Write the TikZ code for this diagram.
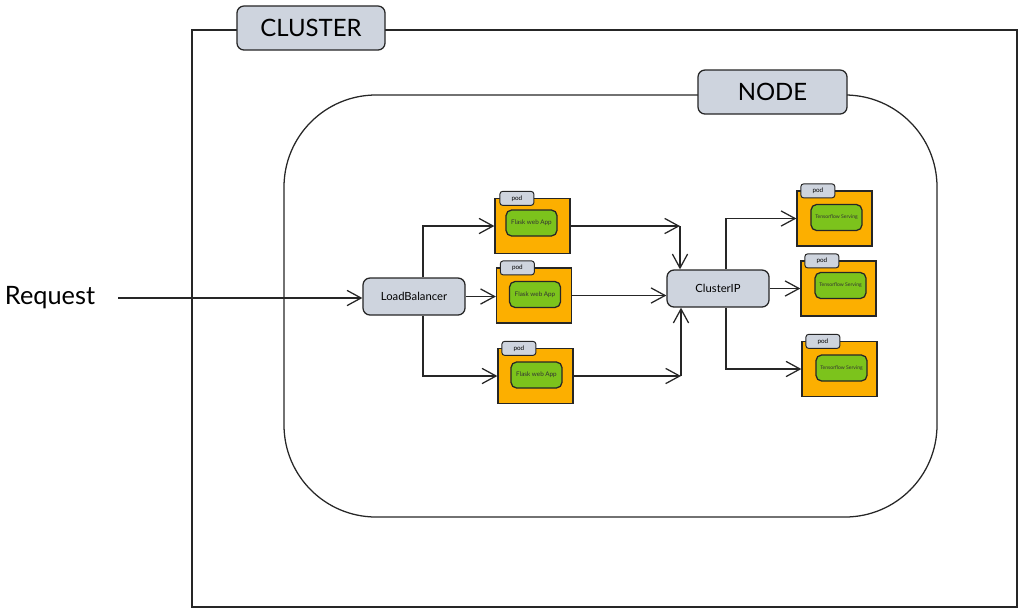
\documentclass[tikz,border=0pt]{standalone}
\usepackage{fontspec}
\setmainfont{Lato}
\usetikzlibrary{arrows.meta}

\definecolor{labelgray}{HTML}{CED4DE}
\definecolor{podorange}{HTML}{FCAF00}
\definecolor{appgreen}{HTML}{7CC31C}

\tikzset{
    frame/.style={draw=black!85, line width=0.9pt},
    tagbox/.style={draw=black!85, line width=0.9pt, fill=labelgray, rounded corners=5pt,
        minimum width=3.7cm, minimum height=1.1cm, font=\fontsize{17}{17}\selectfont},
    svcbox/.style={draw=black!85, line width=0.9pt, fill=labelgray, rounded corners=5pt,
        minimum width=2.55cm, minimum height=0.925cm, font=\fontsize{8}{8}\selectfont},
    podbox/.style={draw=black!85, line width=0.9pt, fill=podorange,
        minimum width=1.875cm, minimum height=1.375cm, inner sep=0pt},
    podtag/.style={draw=black!85, line width=0.7pt, fill=labelgray, rounded corners=2pt,
        minimum width=0.85cm, minimum height=0.35cm, inner sep=0pt, anchor=south west,
        font=\fontsize{4.5}{4.5}\selectfont},
    appbox/.style={draw=black!85, line width=0.9pt, fill=appgreen, rounded corners=4pt,
        minimum width=1.275cm, minimum height=0.65cm, inner sep=0pt, text=black!80},
    arr/.style={-{Straight Barb[length=3.5mm,width=3.8mm]}, draw=black!85, line width=0.9pt}
}

\begin{document}
\begin{tikzpicture}[x=0.025cm, y=-0.025cm]
    \useasboundingbox (0,0) rectangle (1024,614);

    % Cluster y Node
    \draw[frame] (192,30) rectangle (1017,607);
    \draw[frame, rounded corners=2.3cm] (284,95) rectangle (937,517);
    \node[tagbox] (cluster) at (311,28) {CLUSTER};
    \node[tagbox, minimum width=3.725cm] (nodetag) at (772.5,92) {NODE};

    % Servicios
    \node[font=\fontsize{18}{18}\selectfont] (req) at (50,298) {Request};
    \node[svcbox] (lb) at (414,296.5) {LoadBalancer};
    \node[svcbox] (cip) at (718,288.5) {ClusterIP};

    % Pods Flask
    \node[podbox] (p1) at (532.5,226) {};
    \node[podtag] (p1t) at ([shift={(5,8)}]p1.north west) {pod};
    \node[appbox, font=\fontsize{4.5}{4.5}\selectfont] (p1a) at ([shift={(-1,-3)}]p1.center) {Flask web App};
    \node[podbox] (p2) at (534,295.5) {};
    \node[podtag] (p2t) at ([shift={(4,8)}]p2.north west) {pod};
    \node[appbox, font=\fontsize{4.5}{4.5}\selectfont] (p2a) at ([shift={(1,-1)}]p2.center) {Flask web App};
    \node[podbox] (p3) at (535.5,376) {};
    \node[podtag] (p3t) at ([shift={(4,8)}]p3.north west) {pod};
    \node[appbox, font=\fontsize{4.5}{4.5}\selectfont] (p3a) at ([shift={(1,-1)}]p3.center) {Flask web App};

    % Pods TensorFlow
    \node[podbox] (p4) at (834.5,218.5) {};
    \node[podtag] (p4t) at ([shift={(4,8)}]p4.north west) {pod};
    \node[appbox, font=\fontsize{3.6}{3.6}\selectfont] (p4a) at ([shift={(2,-1)}]p4.center) {Tensorflow Serving};
    \node[podbox] (p5) at (838.5,288.5) {};
    \node[podtag] (p5t) at ([shift={(4,8)}]p5.north west) {pod};
    \node[appbox, font=\fontsize{3.6}{3.6}\selectfont] (p5a) at ([shift={(2,-3)}]p5.center) {Tensorflow Serving};
    \node[podbox] (p6) at (839.5,369) {};
    \node[podtag] (p6t) at ([shift={(4,8)}]p6.north west) {pod};
    \node[appbox, font=\fontsize{3.6}{3.6}\selectfont] (p6a) at ([shift={(2,-1)}]p6.center) {Tensorflow Serving};

    % Flechas de entrada
    \draw[arr] ([xshift=0.45cm]req.east) -- (req.east -| lb.west);
    \draw[arr] ([xshift=0.225cm]lb.north) |- (p1.west);
    \draw[arr] (lb.east) -- (lb.east -| p2.west);
    \draw[arr] ([xshift=0.225cm]lb.south) |- (p3.west);

    % Flechas hacia ClusterIP
    \coordinate (ct) at ([xshift=-0.95cm]cip.north);
    \coordinate (cb) at ([xshift=-0.925cm]cip.south);
    \draw[arr] (p1.east) -- (p1.east -| ct);
    \draw[arr] (p1.east -| ct) -- (ct);
    \draw[arr] (p2.east) -- (p2.east -| cip.west);
    \draw[arr] (p3.east) -- (p3.east -| cb);
    \draw[arr] (p3.east -| cb) -- (cb);

    % Flechas hacia TensorFlow
    \draw[arr] ([xshift=0.2cm]cip.north) |- (p4.west);
    \draw[arr] (cip.east) -- (cip.east -| p5.west);
    \draw[arr] ([xshift=0.2cm]cip.south) |- (p6.west);
\end{tikzpicture}
\end{document}
